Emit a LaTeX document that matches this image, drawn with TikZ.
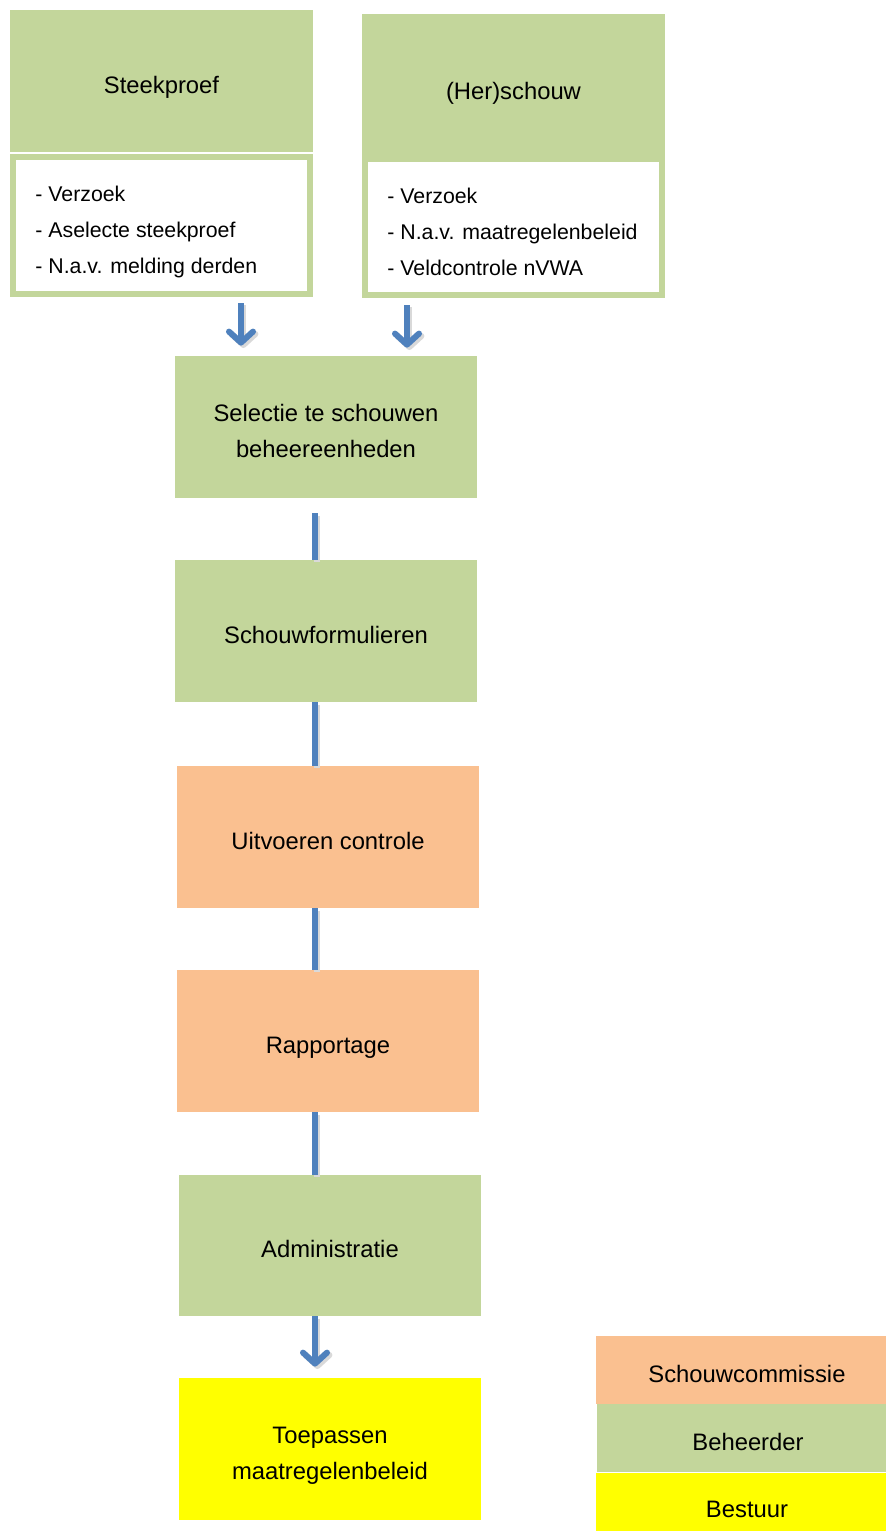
\documentclass[tikz,border=0pt]{standalone}
\usepackage{fontspec}
\setmainfont{Liberation Sans}
\usepackage{tikz}
\usetikzlibrary{arrows.meta}

\definecolor{beheergreen}{RGB}{195,214,155}
\definecolor{commissieorange}{RGB}{250,192,144}
\definecolor{bestuuryellow}{RGB}{255,255,0}
\definecolor{flowblue}{RGB}{79,129,189}

\newcommand{\lnstrut}{\rule[-3pt]{0pt}{18pt}}

\tikzset{
	box/.style={rectangle, inner sep=0pt, minimum width=151pt, minimum height=71pt, align=center, font=\fontsize{11.9}{18}\selectfont},
	beheer/.style={box, fill=beheergreen},
	commissie/.style={box, fill=commissieorange},
	bestuur/.style={box, fill=bestuuryellow},
	listbox/.style={rectangle, inner sep=0pt, fill=white, draw=beheergreen, line width=3pt, minimum width=148.5pt},
	listtext/.style={inner sep=0pt, align=left, font=\fontsize{10.65}{18}\selectfont},
	flowshadow/.style={preaction={draw=black!15, line width=3pt, transform canvas={shift={(1.2pt,-1.2pt)}}}},
	flowline/.style={draw=flowblue, line width=3pt, flowshadow},
	flowarrow/.style={flowline, -{Straight Barb[length=5.5pt, width=12pt, line cap=round, line join=round]}}
}

\begin{document}
\begin{tikzpicture}[x=0.5pt,y=-0.5pt]
	\useasboundingbox (0,0) rectangle (886,1531);
	% input blocks
	\node[beheer, minimum width=151.5pt] (steek) at (161.5,81) {\lnstrut Steekproef};
	\node[listbox, minimum height=68.5pt] (steeklist) at (161.5,225.5) {};
	\node[listtext, anchor=west] (steekitems) at (35,232) {- Verzoek\\- Aselecte steekproef\\- N.a.v. melding derden};
	\node[beheer, minimum width=151.5pt, minimum height=73pt] (her) at (513.5,87) {\lnstrut(Her)schouw};
	\node[listbox, minimum height=68pt] (herlist) at (513.5,227) {};
	\node[listtext, anchor=west] (heritems) at (387,232) {- Verzoek\\- N.a.v. maatregelenbeleid\\- Veldcontrole nVWA};
	% main chain
	\node[beheer] (sel) at (326,427) {\lnstrut Selectie te schouwen\\beheereenheden\lnstrut};
	\node[beheer] (form) at (326,631) {\lnstrut Schouwformulieren};
	\node[commissie] (uitv) at (328,837) {\lnstrut Uitvoeren controle};
	\node[commissie] (rapp) at (328,1041) {\lnstrut Rapportage};
	\node[beheer, minimum height=70.5pt] (adm) at (330,1245.5) {\lnstrut Administratie};
	\node[bestuur] (toep) at (330,1449) {\lnstrut Toepassen\\maatregelenbeleid\lnstrut};
	% legend
	\node[commissie, minimum height=34pt] (legcom) at (747,1370) {\lnstrut Schouwcommissie};
	\node[beheer, minimum height=34pt] (legbeh) at (748,1438) {\lnstrut Beheerder};
	\node[bestuur, minimum height=32pt] (legbes) at (747,1505) {\lnstrut Bestuur};
	% connectors
	\coordinate (a1) at ([xshift=39.75pt]steeklist.south);
	\coordinate (a2) at ([xshift=-53.25pt]herlist.south);
	\coordinate (l1) at ([xshift=-5.5pt]sel.south);
	\coordinate (l2) at ([xshift=-5.5pt]form.south);
	\coordinate (l3) at ([xshift=-6.5pt]uitv.south);
	\coordinate (l4) at ([xshift=-6.5pt]rapp.south);
	\coordinate (l5) at ([xshift=-7.5pt]adm.south);
	\draw[flowarrow, shorten <=3pt, shorten >=5pt] (a1) -- (a1 |- sel.north);
	\draw[flowarrow, shorten <=3.5pt, shorten >=4pt] (a2) -- (a2 |- sel.north);
	\draw[flowline, shorten <=7.5pt] (l1) -- (l1 |- form.north);
	\draw[flowline] (l2) -- (l2 |- uitv.north);
	\draw[flowline] (l3) -- (l3 |- rapp.north);
	\draw[flowline] (l4) -- (l4 |- adm.north);
	\draw[flowarrow, shorten >=5.5pt] (l5) -- (l5 |- toep.north);
\end{tikzpicture}
\end{document}
